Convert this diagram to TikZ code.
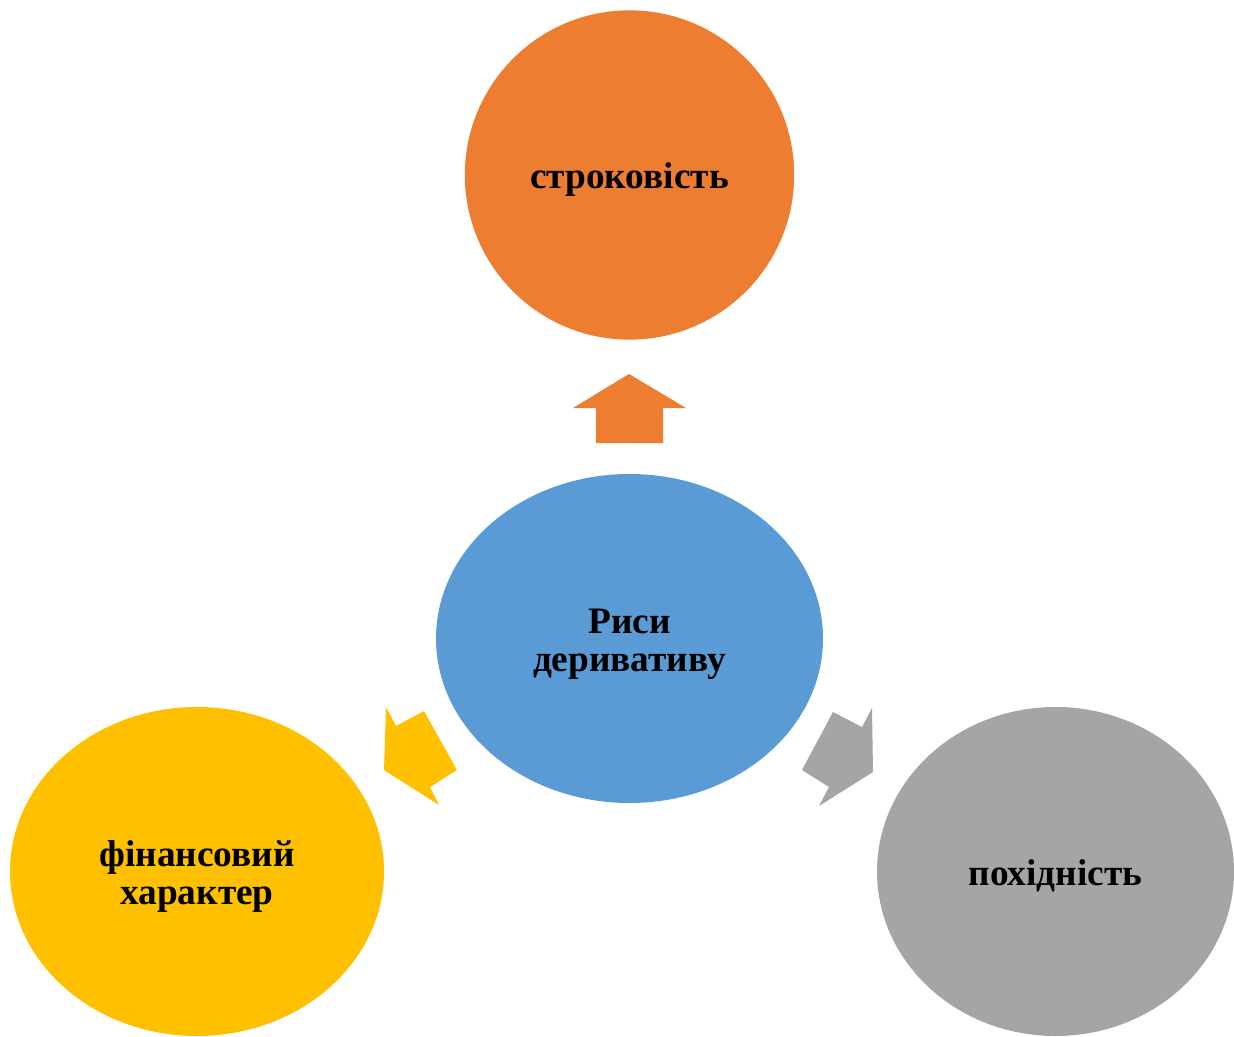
\documentclass[tikz,border=0pt]{standalone}
\usepackage{fontspec}
\setmainfont{Liberation Serif}
\usetikzlibrary{shapes.geometric}
\definecolor{cOrange}{HTML}{ED7D31}
\definecolor{cBlue}{HTML}{5B9BD5}
\definecolor{cYellow}{HTML}{FFC000}
\definecolor{cGray}{HTML}{A5A5A5}
% centred label lines, set a little lower than the geometric centre
\newcommand{\bubbletext}[1]{\raisebox{-4.5pt}[\height][\depth]{\begin{tabular}{@{}c@{}}#1\end{tabular}}}
\begin{document}
\begin{tikzpicture}[x=0.75pt,y=-0.75pt,
  bubble/.style={ellipse, draw=none, inner sep=0pt,
    font=\fontsize{28}{28.5}\selectfont\bfseries, text=black}]
\useasboundingbox (0,0) rectangle (1234,1037);

% outer bubbles and the central one
\node[bubble, fill=cOrange, minimum width=247pt, minimum height=247pt] (term) at (629.5,175) {\bubbletext{строковість}};
\node[bubble, fill=cBlue, minimum width=290.25pt, minimum height=246.75pt] (centre) at (629.5,638.5) {\bubbletext{Риси\\деривативу}};
\node[bubble, fill=cYellow, minimum width=280.5pt, minimum height=246.75pt] (fin) at (197,871.5) {\bubbletext{фінансовий\\характер}};
\node[bubble, fill=cGray, minimum width=267.75pt, minimum height=246.75pt] (deriv) at (1055.5,871.5) {\bubbletext{похідність}};

% block arrows pointing outward from the centre
\fill[cOrange] (629,374) -- (686,408) -- (663,408) -- (663,443) -- (596,443) -- (596,408) -- (573,408) -- cycle;
\fill[cYellow] (386,707) -- (396,726) -- (424,711) -- (457,770) -- (430,787) -- (439,805) -- (384,770) -- cycle;
\fill[cGray] (833,712) -- (862,727) -- (872,708) -- (873,772) -- (819,806) -- (829,787) -- (802,770) -- cycle;
\end{tikzpicture}
\end{document}
